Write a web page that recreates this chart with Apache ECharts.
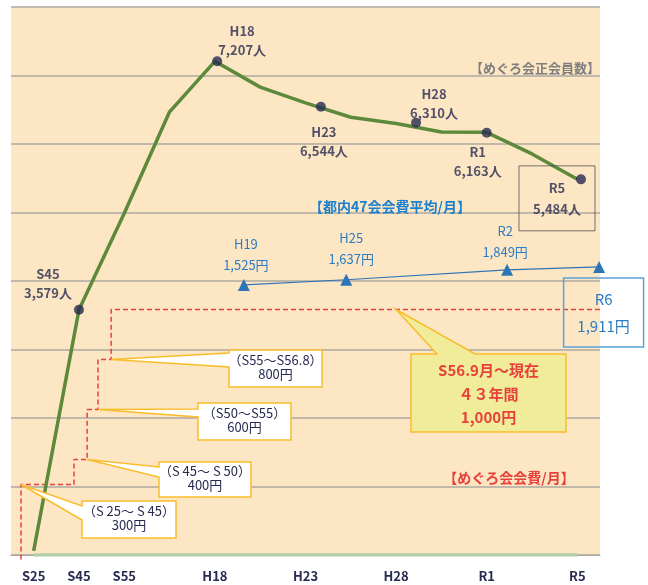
<!DOCTYPE html>
<html>
<head>
<meta charset="utf-8">
<script src="https://cdn.jsdelivr.net/npm/echarts@6/dist/echarts.min.js"></script>
<style>
  html, body { margin: 0; padding: 0; background: #fff; }
  #chart { width: 648px; height: 585px; }
</style>
</head>
<body>
<div id="chart"></div>
<script>
// x axis: 13 equal slots, only some are labelled
const tickLabels = ['S25', 'S45', 'S55', '', 'H18', '', 'H23', '', 'H28', '', 'R1', '', 'R5'];

// めぐろ会正会員数 (line, one value per slot)
const memberLine = [60, 3579, 4990, 6470, 7207, 6830, 6600, 6390, 6300, 6175, 6170, 5855, 5484];
const baseLine = [0, 0, 0, 0, 0, 0, 0, 0, 0, 0, 0, 0, 0];

// highlighted members (position along the 0..13 slot scale)
const dotNames = ['S45', 'H18', 'H23', 'H28', 'R1', 'R5'];
const dotPos = [1.5, 4.55, 6.84, 8.94, 10.5, 12.58];
const dotVal = [3579, 7207, 6544, 6310, 6163, 5484];

// 都内47会会費平均/月
const avgNames = ['H19', 'H25', 'R2', 'R6'];
const avgPos = [5.14, 7.40, 10.95, 12.98];
const avgFee = [1525, 1637, 1849, 1911];

// めぐろ会会費/月 (step changes)
const feePos = [0.22, 1.39, 1.68, 1.92, 2.21, 13.16];
const feeVal = [300, 400, 600, 800, 1000, 1000];
const feePeriods = ['（S 25～ S 45）', '（S 45～ S 50）', '（S50～S55）', '（S55～S56.8）'];

const FONT = "'Noto Sans CJK JP', sans-serif";
const NAVY = '#272b50';
const BLUE = '#2a7cc4';
const RED = '#e8403a';

const fmt = (v) => String(v).replace(/\B(?=(\d{3})+(?!\d))/g, ',');

// label offsets for the member dots and fee points
const dotOffsets = [[-31, -26], [25, -21], [3, 35], [18, -19], [-9, 29], [-24, 19]];
const avgOffsets = [[2, -30], [5, -31], [-2, -28], [4.5, 45.5]];

const feeStep = [[feePos[0], 0]].concat(feePos.map((x, i) => [x, feeVal[i]]));

const chart = echarts.init(document.getElementById('chart'));

const option = {
  animation: false,
  grid: { left: 11, right: 48, top: 7, bottom: 30, show: true, backgroundColor: '#fde6c4', borderWidth: 0 },
  xAxis: [
    {
      type: 'category',
      data: tickLabels.map((t, i) => String(i)),
      boundaryGap: true,
      axisLine: { lineStyle: { color: '#a6a6a6', width: 1 } },
      axisTick: { inside: true, length: 4, lineStyle: { color: '#a6a6a6' } },
      axisLabel: {
        interval: 0, margin: 15, color: NAVY, fontWeight: 'bold', fontSize: 13, fontFamily: FONT,
        formatter: (v, i) => tickLabels[i]
      },
      splitLine: { show: false }
    },
    { type: 'value', min: 0, max: 13, show: false }
  ],
  yAxis: [
    {
      type: 'value', min: 0, max: 8000, interval: 1000,
      axisLabel: { show: false }, axisLine: { show: false }, axisTick: { show: false },
      splitLine: { lineStyle: { color: '#aca8a2', width: 1.5 } }
    },
    { type: 'value', min: -4270, max: 7490, show: false },
    { type: 'value', min: 18, max: 2210, show: false }
  ],
  series: [
    {
      type: 'line', data: baseLine, symbol: 'none', silent: true, z: 1,
      lineStyle: { color: '#b4cfa6', width: 3.5 }
    },
    {
      type: 'line', xAxisIndex: 1, yAxisIndex: 2, data: feeStep, step: 'end', symbol: 'none', clip: false,
      lineStyle: { color: RED, width: 1.5, type: [5, 3] }
    },
    {
      type: 'line', data: memberLine, symbol: 'none',
      lineStyle: { color: '#5c8a3a', width: 3.5 }
    },
    {
      type: 'scatter', xAxisIndex: 1, yAxisIndex: 0, symbolSize: 10, z: 5,
      itemStyle: { color: NAVY },
      data: dotPos.map((x, i) => ({
        value: [x, dotVal[i]],
        label: Object.assign({
          show: true, position: 'inside', offset: dotOffsets[i],
          formatter: dotNames[i] + '\n' + fmt(dotVal[i]) + '人',
          color: NAVY, fontWeight: 'bold', fontSize: 13, fontFamily: FONT, lineHeight: 19, align: 'center'
        }, i === 5 ? { lineHeight: 21, borderColor: '#505050', borderWidth: 1, width: 74, padding: [12, 1, 11, 1] } : {})
      }))
    },
    {
      type: 'line', xAxisIndex: 1, yAxisIndex: 1, symbol: 'triangle', symbolSize: 12, z: 4,
      itemStyle: { color: '#2e75b6' },
      lineStyle: { color: '#2e75b6', width: 1.2 },
      data: avgPos.map((x, i) => ({
        value: [x, avgFee[i]],
        label: Object.assign({
          show: true, position: 'inside', offset: avgOffsets[i],
          formatter: avgNames[i] + '\n' + fmt(avgFee[i]) + '円',
          color: BLUE, fontSize: 13, fontFamily: FONT, lineHeight: 21, align: 'center'
        }, i === 3 ? {
          fontSize: 15, lineHeight: 27, borderColor: '#5ba3d6', borderWidth: 1.5,
          width: 78, padding: [4, 1, 11, 1]
        } : {})
      }))
    }
  ]
};

chart.setOption(option);

// callouts for the fee steps: box + wedge pointing at the step corner
function toPx(x, y) {
  return chart.convertToPixel({ xAxisIndex: 1, yAxisIndex: 2 }, [x, y]);
}

const boxes = [
  { r: [82, 501, 94, 37], base: [506, 520], tip: [feePos[0], feeVal[0]] },
  { r: [159, 462, 92, 35], base: [467, 477], tip: [feePos[2], feeVal[1]] },
  { r: [198, 403, 93, 37], base: [409, 417], tip: [feePos[3], feeVal[2]] },
  { r: [229, 350, 93, 37], base: [353, 367], tip: [feePos[4], feeVal[3]] }
];

const graphics = [];
boxes.forEach((b, i) => {
  const [x, y, w, h] = b.r;
  const t = toPx(b.tip[0], b.tip[1]);
  graphics.push({
    type: 'polygon', z: 10,
    shape: { points: [[x, y], [x + w, y], [x + w, y + h], [x, y + h], [x, b.base[1]], t, [x, b.base[0]]] },
    style: { fill: '#fff', stroke: '#f9bd2b', lineWidth: 1.5 }
  });
  graphics.push({
    type: 'text', z: 11, x: x + w / 2, y: y + h / 2 - 1,
    style: {
      text: feePeriods[i] + '\n' + fmt(feeVal[i]) + '円',
      fill: NAVY, fontSize: 13, fontFamily: FONT, lineHeight: 14, align: 'center', verticalAlign: 'middle'
    }
  });
});

// current fee callout (yellow)
const ytip = toPx(8.5, feeVal[4]);
graphics.push({
  type: 'polygon', z: 10,
  shape: { points: [[411, 354], [437, 354], ytip, [475, 354], [566, 354], [566, 432], [411, 432]] },
  style: { fill: '#f1ec99', stroke: '#f9bd2b', lineWidth: 1.5 }
});
graphics.push({
  type: 'text', z: 11, x: 488.5, y: 394,
  style: {
    text: 'S56.9月～現在\n４３年間\n' + fmt(feeVal[4]) + '円',
    fill: RED, fontSize: 15, fontWeight: 'bold', fontFamily: FONT, lineHeight: 23.5, align: 'center', verticalAlign: 'middle'
  }
});

// series titles
graphics.push({
  type: 'text', z: 11, x: 600, y: 68,
  style: { text: '【めぐろ会正会員数】', fill: '#7f7f7f', fontSize: 13, fontWeight: 'bold', fontFamily: FONT, align: 'right', verticalAlign: 'middle' }
});
graphics.push({
  type: 'text', z: 11, x: 390, y: 207,
  style: { text: '【都内47会会費平均/月】', fill: '#1c80cf', fontSize: 14, fontWeight: 'bold', fontFamily: FONT, align: 'center', verticalAlign: 'middle' }
});
graphics.push({
  type: 'text', z: 11, x: 509, y: 478,
  style: { text: '【めぐろ会会費/月】', fill: RED, fontSize: 14, fontWeight: 'bold', fontFamily: FONT, align: 'center', verticalAlign: 'middle' }
});

chart.setOption({ graphic: graphics });
</script>
</body>
</html>
